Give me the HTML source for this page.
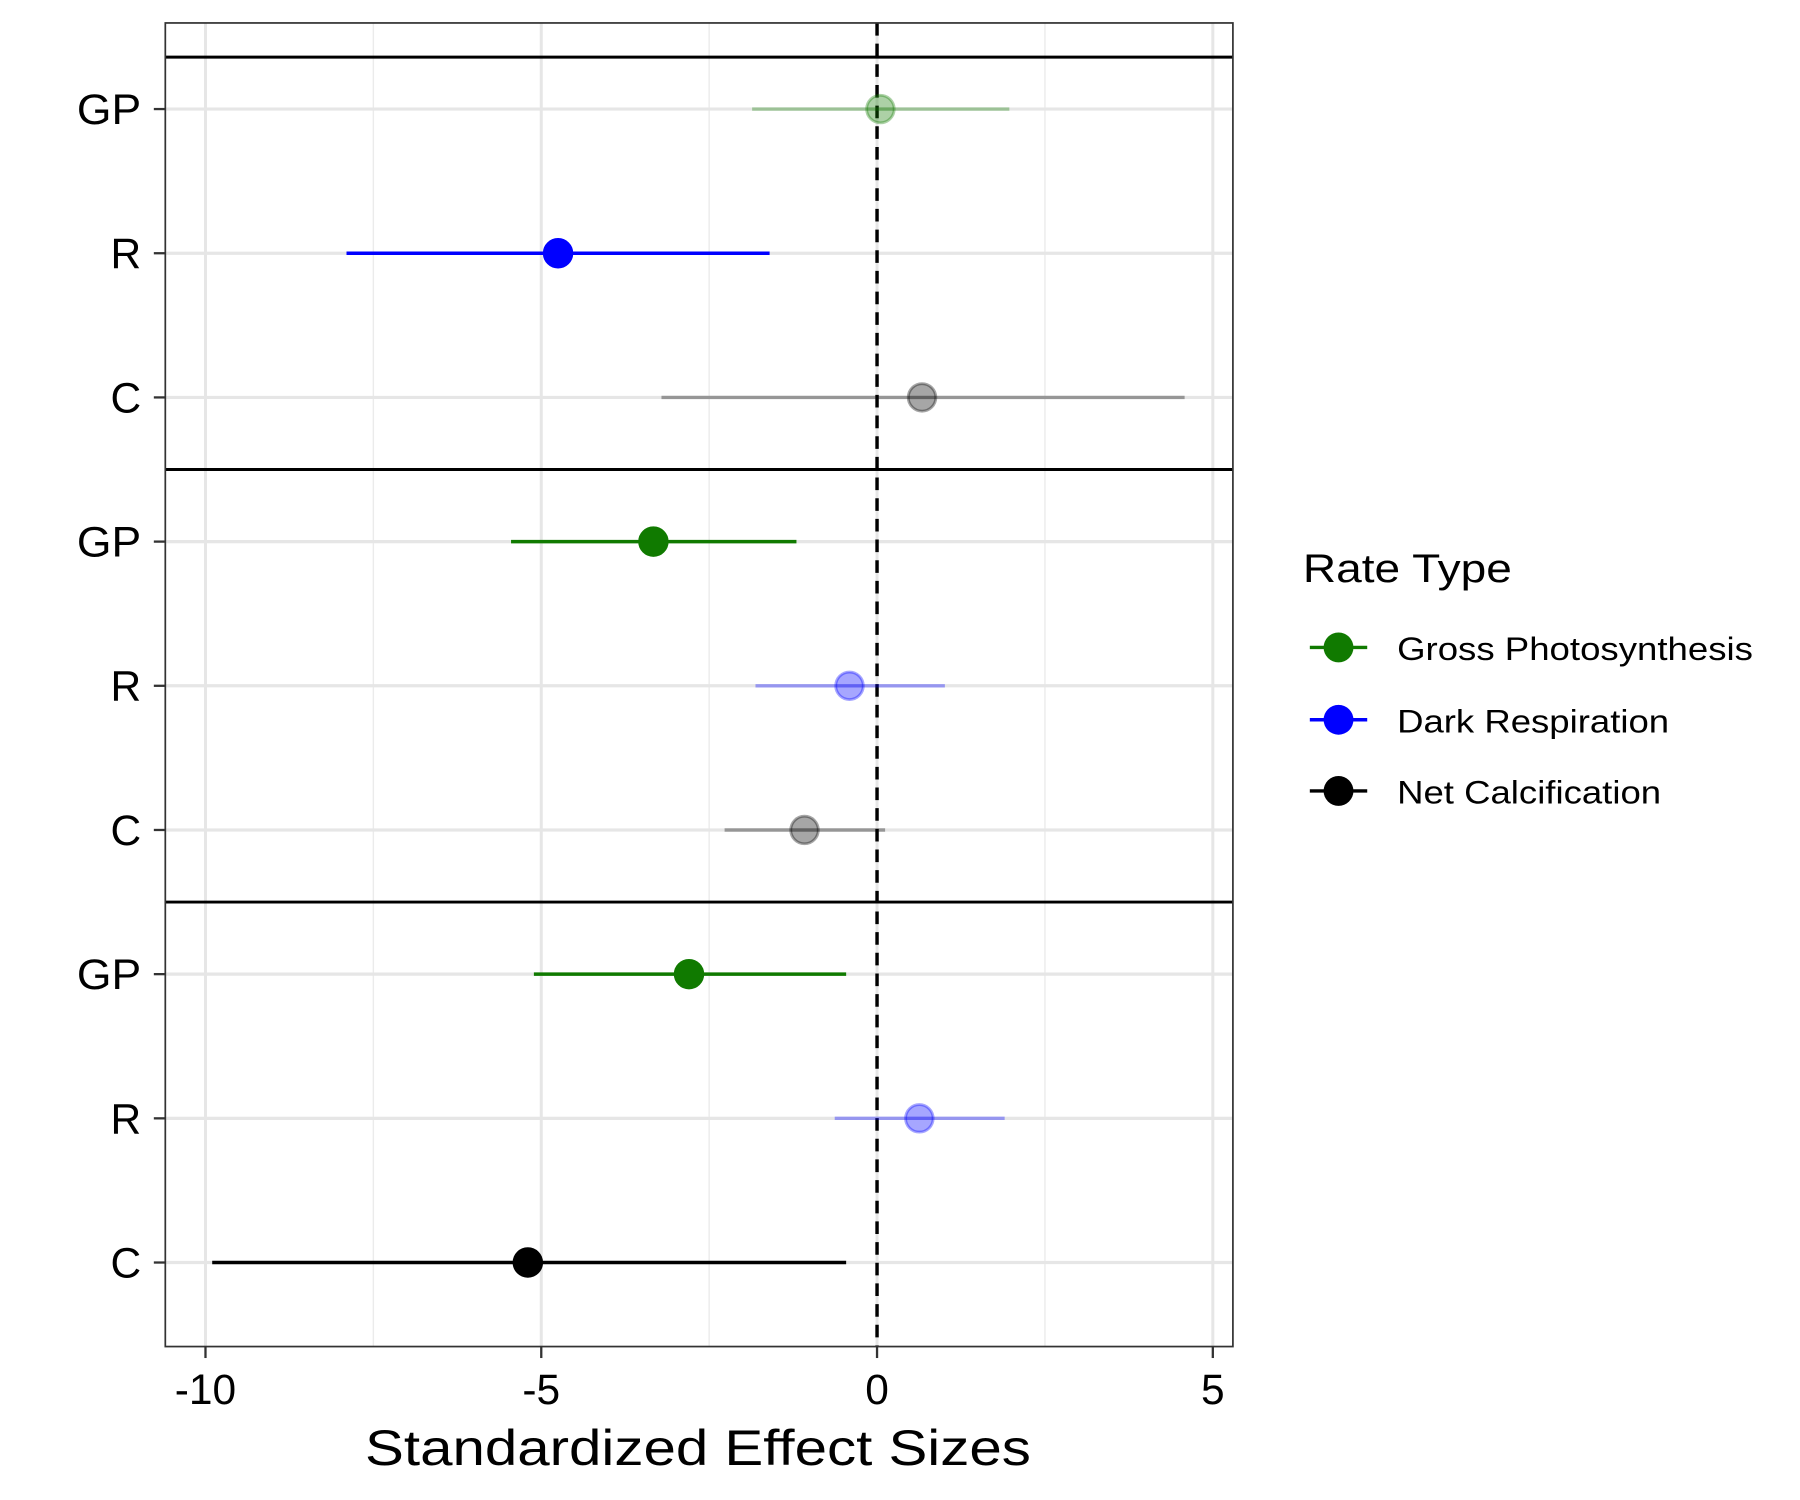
<!DOCTYPE html>
<html><head><meta charset="utf-8"><style>
html,body{margin:0;padding:0;background:#fff;}
svg{display:block;font-family:"Liberation Sans",Arial,sans-serif;}
</style></head><body>
<svg id="chart" width="1800" height="1500" viewBox="0 0 1568 1306.67" xmlns="http://www.w3.org/2000/svg">
<rect x="0" y="0" width="1568" height="1307" fill="#fff"/>
<g id="grid"></g>
<g id="marks"></g>
<g id="axes"></g>
<text x="608" y="1276" font-size="44" text-anchor="middle" textLength="580" lengthAdjust="spacingAndGlyphs" fill="#000">Standardized Effect Sizes</text>
<g>
<text x="1135" y="507" font-size="35" textLength="182" lengthAdjust="spacingAndGlyphs" fill="#000">Rate Type</text>
<g>
<line x1="1141" x2="1191" y1="564" y2="564" stroke="#107a00" stroke-width="3"/><circle cx="1166" cy="564" r="13" fill="#107a00"/>
<text x="1217" y="575" font-size="28" textLength="310" lengthAdjust="spacingAndGlyphs" fill="#000">Gross Photosynthesis</text></g>
<g>
<line x1="1141" x2="1191" y1="627" y2="627" stroke="#0000ff" stroke-width="3"/><circle cx="1166" cy="627" r="13" fill="#0000ff"/>
<text x="1217" y="638" font-size="28" textLength="237" lengthAdjust="spacingAndGlyphs" fill="#000">Dark Respiration</text></g>
<g>
<line x1="1141" x2="1191" y1="689" y2="689" stroke="#000" stroke-width="3"/><circle cx="1166" cy="689" r="13" fill="#000"/>
<text x="1217" y="700" font-size="28" textLength="230" lengthAdjust="spacingAndGlyphs" fill="#000">Net Calcification</text></g>
</g>
<script>
const rowLabels = ["GP","R","C","GP","R","C","GP","R","C"];
const rowTypes = ["gp","r","c","gp","r","c","gp","r","c"];
const estimates = [0.05,-4.75,0.67,-3.33,-0.41,-1.08,-2.8,0.63,-5.2];
const lowers = [-1.86,-7.9,-3.21,-5.45,-1.81,-2.27,-5.11,-0.63,-9.9];
const uppers = [1.97,-1.6,4.58,-1.2,1.01,0.12,-0.46,1.9,-0.46];
const significant = [false,true,false,true,false,false,true,false,true];
const xTicks = [-10,-5,0,5];
const xMinor = [-7.5,-2.5,2.5];
const separators = [-0.36,2.5,5.5];

const L=144,R=1074,T=20,B=1173;
const NS="http://www.w3.org/2000/svg";
function xs(v){return 764+v*58.5;}
function ys(i){return 95+i*125.6;}
const colors={gp:"#107a00",r:"#0000ff",c:"#000000"};
function mk(tag,attrs,parent){const e=document.createElementNS(NS,tag);for(const k in attrs)e.setAttribute(k,attrs[k]);parent.appendChild(e);return e;}
const grid=document.getElementById('grid'),marks=document.getElementById('marks'),axes=document.getElementById('axes');
xMinor.forEach(v=>{const e=mk('line',{x1:xs(v),x2:xs(v),y1:T,y2:B,stroke:'#ebebeb','stroke-width':1.2},grid);

});
xTicks.forEach(v=>{const e=mk('line',{x1:xs(v),x2:xs(v),y1:T,y2:B,stroke:'#e6e6e6','stroke-width':2.6},grid);

});
rowLabels.forEach((l,i)=>{const e=mk('line',{x1:L,x2:R,y1:ys(i),y2:ys(i),stroke:'#e6e6e6','stroke-width':2.8},grid);

});
separators.forEach(s=>{const e=mk('line',{x1:L,x2:R,y1:ys(s),y2:ys(s),stroke:'#000','stroke-width':2.6},marks);

});
const zl=mk('line',{x1:xs(0),x2:xs(0),y1:T,y2:B,stroke:'#000','stroke-width':3,'stroke-dasharray':'11,7'},marks);


estimates.forEach((v,i)=>{const c=colors[rowTypes[i]];const op=significant[i]?1:0.35;
const g=mk('g',{},marks);


mk('line',{x1:xs(lowers[i]),x2:xs(uppers[i]),y1:ys(i),y2:ys(i),stroke:c,'stroke-width':3,'stroke-opacity':op},g);
mk('circle',{cx:xs(v),cy:ys(i),r:12,fill:c,'fill-opacity':op,stroke:c,'stroke-opacity':op,'stroke-width':2.5},g);});
const fr=mk('rect',{x:L,y:T,width:R-L,height:B-T,fill:'none',stroke:'#333','stroke-width':1.5},axes);


rowLabels.forEach((l,i)=>{mk('line',{x1:L-10,x2:L,y1:ys(i),y2:ys(i),stroke:'#333','stroke-width':2},axes);
const t=mk('text',{x:L-21,y:ys(i)+13,'font-size':37,'text-anchor':'end',fill:'#000'},axes);t.textContent=l;
if(l==='GP'){t.setAttribute('textLength',56);t.setAttribute('lengthAdjust','spacingAndGlyphs');}

});
xTicks.forEach(v=>{mk('line',{x1:xs(v),x2:xs(v),y1:B,y2:B+10,stroke:'#333','stroke-width':2},axes);
const t=mk('text',{x:xs(v),y:B+50,'font-size':37,'text-anchor':'middle',fill:'#000'},axes);t.textContent=v;

});
</script>
</svg>
</body></html>
